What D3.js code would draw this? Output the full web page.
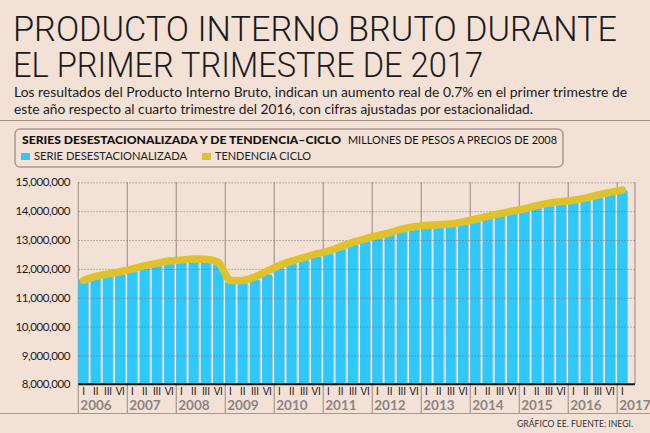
<!DOCTYPE html>
<html>
<head>
<meta charset="UTF-8">
<title>PIB primer trimestre 2017</title>
<script src="https://d3js.org/d3.v7.min.js"></script>
<style>
  body{margin:0;background:#f3e1d6;}
  svg{display:block;font-family:Lato, "Open Sans", sans-serif;}
  .titulo{font-family:Roboto,"Open Sans",sans-serif;font-weight:300;}
</style>
</head>
<body>
<div id="chart"></div>
<script>
// datos trimestrales, millones de pesos a precios de 2008
const years = ["2006","2007","2008","2009","2010","2011","2012","2013","2014","2015","2016","2017"];
const quarterLabels = ["I","II","III","VI"];
const serieDesest = [
  11630000, 11680000, 11750000, 11800000,
  11920000, 12040000, 12120000, 12200000,
  12240000, 12270000, 12260000, 12140000,
  11520000, 11500000, 11620000, 11800000,
  12020000, 12180000, 12300000, 12440000,
  12540000, 12690000, 12840000, 12970000,
  13080000, 13180000, 13310000, 13400000,
  13440000, 13440000, 13480000, 13550000,
  13650000, 13750000, 13840000, 13930000,
  14010000, 14100000, 14180000, 14240000,
  14290000, 14370000, 14480000, 14600000,
  14720000
];
const tendenciaCiclo = [
  11600000, 11740000, 11820000, 11900000,
  12000000, 12110000, 12190000, 12270000,
  12310000, 12340000, 12330000, 12230000,
  11600000, 11600000, 11720000, 11920000,
  12120000, 12270000, 12390000, 12520000,
  12620000, 12770000, 12920000, 13040000,
  13150000, 13250000, 13380000, 13460000,
  13510000, 13530000, 13560000, 13630000,
  13720000, 13820000, 13910000, 14000000,
  14080000, 14190000, 14280000, 14330000,
  14380000, 14450000, 14560000, 14650000,
  14730000
];
const yTicks = [8000000, 9000000, 10000000, 11000000, 12000000, 13000000, 14000000, 15000000];

const width = 650, height = 433;
const bg = "#f3e1d6";
const blue = "#2ec8fc";
const gold = "#dfc12c";

const quarters = years.flatMap(y => quarterLabels.map(q => y + "-" + q)).slice(0, serieDesest.length);

const svg = d3.select("#chart").append("svg")
  .attr("width", width).attr("height", height);

svg.append("rect").attr("width", width).attr("height", height).attr("fill", bg);

// titulo
const title = svg.append("g").attr("fill", "#1a1a1a").attr("class", "titulo");
title.append("text").attr("x", 13).attr("y", 41).attr("font-size", 35)
  .attr("textLength", 604).attr("lengthAdjust", "spacingAndGlyphs")
  .text("PRODUCTO INTERNO BRUTO DURANTE");
title.append("text").attr("x", 13).attr("y", 77).attr("font-size", 35)
  .attr("textLength", 470).attr("lengthAdjust", "spacingAndGlyphs")
  .text("EL PRIMER TRIMESTRE DE 2017");

const sub = svg.append("g").attr("fill", "#1a1a1a").attr("font-size", 13.5);
sub.append("text").attr("x", 14).attr("y", 97)
  .attr("textLength", 613).attr("lengthAdjust", "spacingAndGlyphs")
  .text("Los resultados del Producto Interno Bruto, indican un aumento real de 0.7% en el primer trimestre de");
sub.append("text").attr("x", 14).attr("y", 114)
  .attr("textLength", 519).attr("lengthAdjust", "spacingAndGlyphs")
  .text("este año respecto al cuarto trimestre del 2016, con cifras ajustadas por estacionalidad.");

svg.append("line").attr("x1", 0).attr("x2", width).attr("y1", 120.5).attr("y2", 120.5)
  .attr("stroke", "#9a8d86").attr("stroke-width", 1);

// leyenda
svg.append("rect").attr("x", 15).attr("y", 129).attr("width", 548).attr("height", 38)
  .attr("rx", 5).attr("fill", bg).attr("stroke", "#a89b94").attr("stroke-width", 1.5);
svg.append("text").attr("x", 22).attr("y", 143.5).attr("font-size", 11).attr("font-weight", 900)
  .attr("fill", "#111").attr("textLength", 319).attr("lengthAdjust", "spacingAndGlyphs")
  .text("SERIES DESESTACIONALIZADA Y DE TENDENCIA–CICLO");
svg.append("text").attr("x", 348).attr("y", 143.5).attr("font-size", 10.5)
  .attr("fill", "#111").attr("textLength", 209).attr("lengthAdjust", "spacingAndGlyphs")
  .text("MILLONES DE PESOS A PRECIOS DE 2008");
const legendItems = [
  {label: "SERIE DESESTACIONALIZADA", color: blue, x: 21, w: 153},
  {label: "TENDENCIA CICLO", color: gold, x: 202, w: 96}
];
legendItems.forEach(d => {
  svg.append("rect").attr("x", d.x).attr("y", 153).attr("width", 9).attr("height", 7).attr("fill", d.color);
  svg.append("text").attr("x", d.x + 13).attr("y", 160).attr("font-size", 11).attr("fill", "#222")
    .attr("textLength", d.w).attr("lengthAdjust", "spacingAndGlyphs").text(d.label);
});

// escalas
const x = d3.scaleBand().domain(quarters).range([78.3, 629.5]).padding(0);
const y = d3.scaleLinear().domain([8000000, 15000000]).range([384.3, 182.3]);
const bw = x.bandwidth();
const plotRight = 635;

// lineas verticales por año
const yearStarts = years.map(yr => x(yr + "-I"));
svg.append("g").selectAll("line").data(yearStarts).join("line")
  .attr("x1", d => d).attr("x2", d => d)
  .attr("y1", y(15000000)).attr("y2", 413)
  .attr("stroke", "#a7978e").attr("stroke-width", 1.2);
svg.append("line").attr("x1", plotRight).attr("x2", plotRight)
  .attr("y1", y(15000000)).attr("y2", y(8000000))
  .attr("stroke", "#a7978e").attr("stroke-width", 1.2);

// barras
const bars = svg.append("g");
bars.selectAll("rect.gap").data(serieDesest).join("rect").attr("class", "gap")
  .attr("x", (d, i) => x(quarters[i]) + bw - 2.2)
  .attr("y", d => y(d)).attr("width", 2.2)
  .attr("height", d => y(8000000) - y(d)).attr("fill", "#ecebe9");
bars.selectAll("rect.shadow").data(serieDesest).join("rect").attr("class", "shadow")
  .attr("x", (d, i) => x(quarters[i]) + bw - 2.2)
  .attr("y", d => y(d) + 1).attr("width", 0.9)
  .attr("height", d => y(8000000) - y(d) - 1).attr("fill", "#b9bcbd");
bars.selectAll("rect.bar").data(serieDesest).join("rect").attr("class", "bar")
  .attr("x", (d, i) => x(quarters[i]))
  .attr("y", d => y(d)).attr("width", bw - 2.2)
  .attr("height", d => y(8000000) - y(d)).attr("fill", blue);

// rejilla horizontal punteada
svg.append("g").selectAll("line").data(yTicks.filter(d => d > 8000000)).join("line")
  .attr("x1", 78.3).attr("x2", plotRight)
  .attr("y1", d => y(d) + 0.5).attr("y2", d => y(d) + 0.5)
  .attr("stroke", "#6e625b").attr("stroke-opacity", 0.55)
  .attr("stroke-dasharray", "1.5,1.5").attr("stroke-width", 1);

// eje y
const yAxis = svg.append("g").attr("transform", "translate(78,0)")
  .call(d3.axisLeft(y).tickValues(yTicks).tickFormat(d3.format(",")).tickSize(0).tickPadding(8));
yAxis.select(".domain").remove();
yAxis.selectAll("text").attr("font-size", 11.5).attr("fill", "#1a1a1a")
  .attr("letter-spacing", -0.4).style("font-family", "Lato, sans-serif");

// tendencia ciclo
const line = d3.line()
  .x((d, i) => x(quarters[i]) + bw / 2 - 1)
  .y(d => y(d))
  .curve(d3.curveMonotoneX);
svg.append("path").datum(tendenciaCiclo)
  .attr("d", line).attr("fill", "none")
  .attr("stroke", gold).attr("stroke-width", 7.5)
  .attr("stroke-linecap", "round").attr("stroke-linejoin", "round");

// eje x
const xAxis = svg.append("g").attr("transform", "translate(0,384.3)")
  .call(d3.axisBottom(x).tickFormat(d => d.split("-")[1]).tickSize(0).tickPadding(4));
xAxis.select(".domain").attr("stroke", "#111").attr("stroke-width", 2)
  .attr("d", `M78.3,0H${plotRight}`);
xAxis.selectAll(".tick text").attr("font-size", 10).attr("fill", "#111")
  .attr("font-weight", 400).attr("letter-spacing", -0.2)
  .attr("transform", "translate(-1,0)");

// años
svg.append("g").selectAll("text").data(years).join("text")
  .attr("x", d => x(d + "-I") + 2).attr("y", 410)
  .attr("font-size", 13.5).attr("font-weight", 700).attr("fill", "#8a8583")
  .text(d => d);

svg.append("line").attr("x1", 0).attr("x2", width).attr("y1", 413.5).attr("y2", 413.5)
  .attr("stroke", "#a7978e").attr("stroke-width", 1);

svg.append("text").attr("x", 633).attr("y", 427).attr("text-anchor", "end")
  .attr("font-size", 10).attr("fill", "#333")
  .attr("textLength", 116).attr("lengthAdjust", "spacingAndGlyphs")
  .text("GRÁFICO EE. FUENTE: INEGI.");
</script>
</body>
</html>
